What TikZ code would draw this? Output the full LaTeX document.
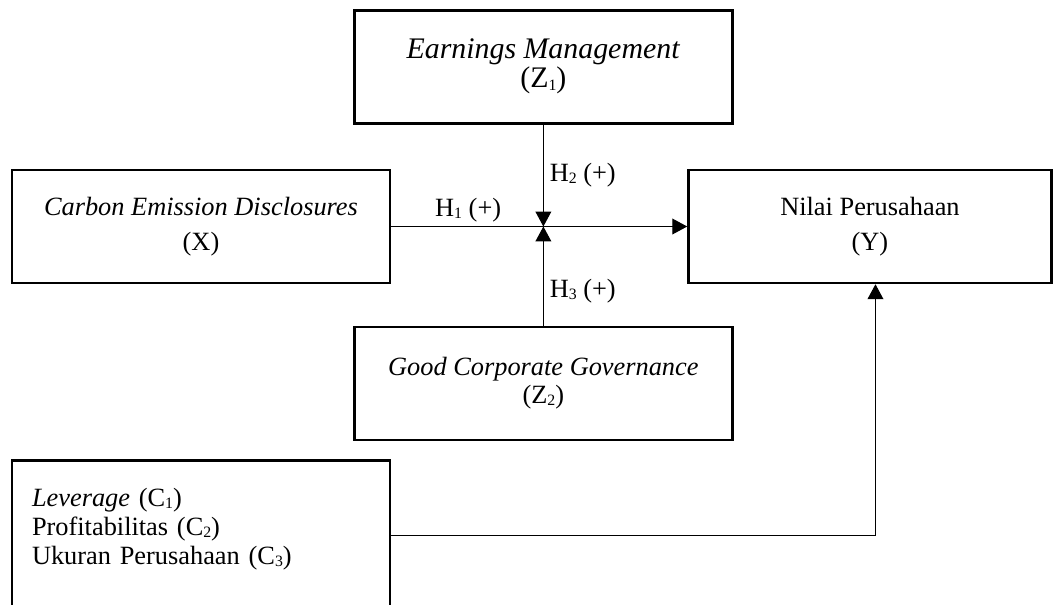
\documentclass[tikz,border=0pt]{standalone}
\usepackage{fontspec}
\setmainfont{Liberation Serif}
\usetikzlibrary{positioning,calc,arrows.meta}

\newcommand{\idx}[1]{\raisebox{-0.15ex}{\fontsize{9}{9}\selectfont #1}}

\begin{document}
\begin{tikzpicture}[
node distance=1cm,
font=\fontsize{15}{16}\selectfont,
box/.style={
draw,
line width=1.4pt,
align=center,
minimum width=7.56cm,
minimum height=2.26cm
},
listbox/.style={
draw,
line width=1.4pt,
align=left,
font=\fontsize{15}{16.5}\selectfont,
text width=6.76cm,
inner xsep=0.4cm,
minimum height=3.02cm
},
arrow/.style={
-{Triangle[length=8.5pt,width=9pt]},
line width=0.6pt
}
]

\clip (0,0) rectangle (21.06,-12.08);


% Independent and dependent variable

\node (ced) [box] at (4.02,-4.53)
{\textit{Carbon Emission Disclosures}\\[4pt]
(X)};

\node (nilai) [box, minimum width=7.26cm, right=5.92cm of ced]
{Nilai Perusahaan\\[4pt]
(Y)};

\coordinate (mid) at ($(ced.east)!0.514!(nilai.west)$);


% Moderating variables

\node (em) [box, font=\fontsize{17}{16.5}\selectfont, above=2.04cm of mid]
{\textit{Earnings Management}\\
(Z\idx{1})};

\node (gcg) [box, below=1.98cm of mid]
{\textit{Good Corporate Governance}\\
(Z\idx{2})};


% Control variables

\node (ctrl) [listbox, below=3.5cm of ced]
{\textit{Leverage} (C\idx{1})\\
Profitabilitas (C\idx{2})\\
Ukuran Perusahaan (C\idx{3})\\[-6pt]
\mbox{}};


\draw[arrow] (ced) -- (nilai)
node[above, pos=0.26, inner sep=2pt] {H\idx{1} (+)};

\draw[arrow] (em) -- (mid)
node[midway, right] {H\idx{2} (+)};

\draw[arrow] (gcg) -- (mid)
node[pos=0.35, right] {H\idx{3} (+)};

\draw[arrow] (ctrl.east) -| ([xshift=0.11cm]nilai.south);


\end{tikzpicture}
\end{document}
